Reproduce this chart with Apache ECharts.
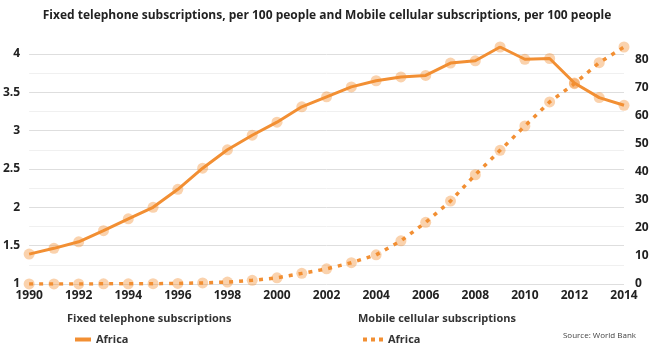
<!DOCTYPE html>
<html>
<head>
<meta charset="utf-8">
<script src="https://cdn.jsdelivr.net/npm/echarts@6/dist/echarts.min.js"></script>
<style>html,body{margin:0;padding:0;background:#fff}#c{width:654px;height:349px}</style>
</head>
<body>
<div id="c"></div>
<script>
const years = ['1990','1991','1992','1993','1994','1995','1996','1997','1998','1999','2000','2001','2002','2003','2004','2005','2006','2007','2008','2009','2010','2011','2012','2013','2014'];
const fixedAfrica = [1.39,1.465,1.55,1.695,1.85,2.0,2.235,2.51,2.75,2.94,3.11,3.31,3.44,3.57,3.65,3.70,3.72,3.88,3.91,4.09,3.93,3.94,3.62,3.43,3.33];
const mobileAfrica = [0.01,0.02,0.03,0.05,0.07,0.1,0.2,0.4,0.7,1.3,2.2,3.8,5.4,7.6,10.4,15.4,22.0,29.6,39.0,47.7,56.4,65.0,71.5,79.0,84.6];
const leftTicks = [1,1.5,2,2.5,3,3.5,4];
const rightTicks = [0,10,20,30,40,50,60,70,80];

const C = '#f28f33';
const chart = echarts.init(document.getElementById('c'), null, {renderer:'canvas'});
const lbl = {color:'#222', fontWeight:'bold', fontSize:12, fontFamily:'Open Sans'};
chart.setOption({
  animation:false,
  title:{text:'Fixed telephone subscriptions, per 100 people and Mobile cellular subscriptions, per 100 people',
    left:'center', top:5, textStyle:{fontSize:12, fontWeight:'bold', color:'#222', fontFamily:'Open Sans'}},
  grid:{left:26, right:30, top:47, bottom:65},
  xAxis:{type:'category', data:years, boundaryGap:false,
    axisLine:{show:false}, axisTick:{show:false},
    axisLabel:Object.assign({interval:1, margin:6}, lbl)},
  yAxis:[
    {type:'value', min:1, max:'dataMax', interval:0.5,
      axisLine:{show:false}, axisTick:{show:false},
      axisLabel:Object.assign({margin:9, showMaxLabel:false, formatter:v=>leftTicks.includes(+v.toFixed(2))?String(v):''}, lbl),
      splitLine:{show:true, showMaxLine:false, lineStyle:{color:'#dedede', width:1}},
      minorTick:{show:false, splitNumber:2},
      minorSplitLine:{show:true, lineStyle:{color:'#f0f0f0', width:1}}},
    {type:'value', min:0, max:'dataMax', interval:10, position:'right',
      axisLine:{show:false}, axisTick:{show:false}, splitLine:{show:false},
      axisLabel:Object.assign({margin:11, showMaxLabel:false, formatter:v=>rightTicks.includes(v)?String(v):''}, lbl)}
  ],
  legend:[
    {left:70, top:329, itemWidth:16, itemHeight:4, itemGap:6, data:['FixedAfrica'],
      icon:'path://M0,0L16,0L16,4L0,4Z', formatter:()=>'Africa',
      itemStyle:{color:C, opacity:1},
      textStyle:{fontSize:11, fontWeight:'bold', color:'#333', fontFamily:'Open Sans'}},
    {left:358, top:329, itemWidth:20, itemHeight:4, itemGap:6, data:['MobileAfrica'],
      icon:'path://M0,0L4,0L4,4L0,4ZM8,0L12,0L12,4L8,4ZM16,0L20,0L20,4L16,4Z', formatter:()=>'Africa',
      itemStyle:{color:C, opacity:1},
      textStyle:{fontSize:11, fontWeight:'bold', color:'#333', fontFamily:'Open Sans'}}
  ],
  graphic:[
    {type:'text', left:67, top:313, style:{text:'Fixed telephone subscriptions', fontSize:11, fontWeight:'bold', fill:'#333', fontFamily:'Open Sans'}},
    {type:'text', left:358, top:313, style:{text:'Mobile cellular subscriptions', fontSize:11, fontWeight:'bold', fill:'#333', fontFamily:'Open Sans'}},
    {type:'text', right:18, top:332, style:{text:'Source: World Bank', fontSize:8, fill:'#444', fontFamily:'Open Sans'}}
  ],
  series:[
    {name:'FixedAfrica', type:'line', yAxisIndex:0, data:fixedAfrica,
      lineStyle:{color:C, width:3}, itemStyle:{color:C, opacity:0.4},
      symbol:'circle', symbolSize:11, showAllSymbol:true, z:3},
    {name:'MobileAfrica', type:'line', yAxisIndex:1, data:mobileAfrica,
      lineStyle:{color:C, width:3.5, type:[4,6]}, itemStyle:{color:C, opacity:0.4},
      symbol:'circle', symbolSize:11, showAllSymbol:true, z:2}
  ]
});
</script>
</body>
</html>
